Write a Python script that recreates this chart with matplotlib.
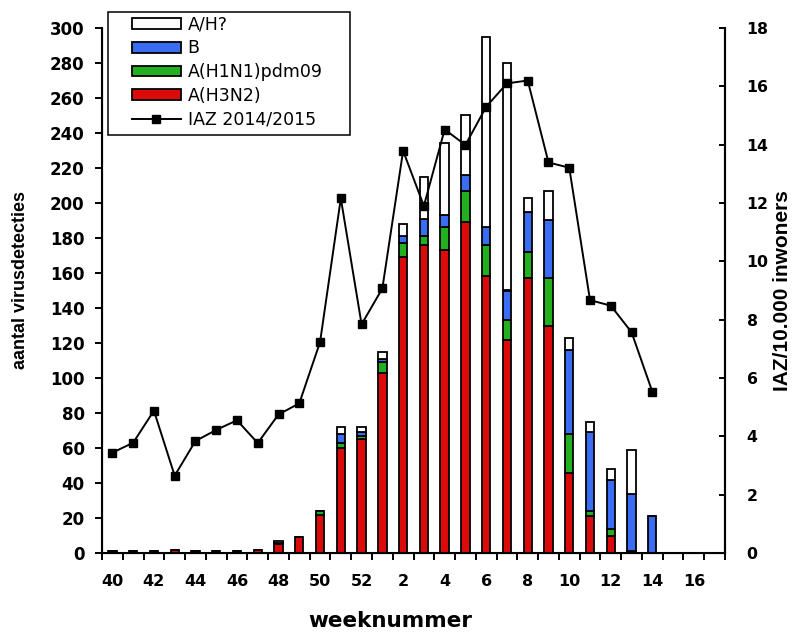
import numpy as np
import matplotlib
matplotlib.use("Agg")
import matplotlib.pyplot as plt
from matplotlib.ticker import FixedLocator
from matplotlib.patches import Rectangle

plt.rcParams['font.family'] = ['DejaVu Sans']

# weeks of season 2014/2015
weeks = list(range(40, 53)) + list(range(1, 18))

h3n2 = [1, 1, 1, 2, 1, 1, 1, 2, 5, 9, 22, 60, 65, 103, 169, 176, 173, 189, 158, 122,
        157, 130, 46, 21, 10, 1, 0, 0, 0, 0]
h1n1 = [0, 0, 0, 0, 0, 0, 0, 0, 1, 0, 2, 3, 2, 6, 8, 5, 13, 18, 18, 11,
        15, 27, 22, 3, 4, 0, 0, 0, 0, 0]
b = [0, 0, 0, 0, 0, 0, 0, 0, 0, 0, 0, 5, 2, 2, 4, 10, 7, 9, 10, 17,
     23, 33, 48, 45, 28, 33, 21, 0, 0, 0]
ah = [0, 0, 0, 0, 0, 0, 0, 0, 1, 0, 0, 4, 3, 4, 7, 24, 41, 34, 109, 130,
      8, 17, 7, 6, 6, 25, 0, 0, 0, 0]
iaz = [3.44, 3.78, 4.88, 2.65, 3.84, 4.22, 4.55, 3.77, 4.75, 5.13, 7.23, 12.16, 7.84, 9.07,
       13.79, 11.9, 14.52, 13.99, 15.3, 16.1, 16.2, 13.39, 13.21, 8.67, 8.48, 7.57, 5.53,
       np.nan, np.nan, np.nan]

x = np.arange(len(weeks))
h3n2 = np.array(h3n2)
h1n1 = np.array(h1n1)
b = np.array(b)
ah = np.array(ah)

W, H = 798, 632
fig = plt.figure(figsize=(W / 100, H / 100), dpi=100)
ax = fig.add_axes([102 / W, 1 - 553 / H, 623 / W, 525 / H])

kw = dict(width=0.4, edgecolor='black', linewidth=1.3)
p1 = ax.bar(x, h3n2, color='#dd0a0a', **kw)
p2 = ax.bar(x, h1n1, bottom=h3n2, color='#22b020', **kw)
p3 = ax.bar(x, b, bottom=h3n2 + h1n1, color='#3a6cf4', **kw)
p4 = ax.bar(x, ah, bottom=h3n2 + h1n1 + b, color='white', **kw)

ax.set_xlim(-0.5, len(weeks) - 0.5)
ax.set_ylim(0, 300)
ax.set_yticks(range(0, 301, 20))
ax.set_xticks(x[::2])
ax.set_xticklabels([str(wk) for wk in weeks[::2]])
ax.xaxis.set_minor_locator(FixedLocator(np.arange(-0.5, len(weeks), 1.0)))
ax.tick_params(axis='x', which='major', length=0, pad=15)
ax.tick_params(axis='x', which='minor', length=5, width=1.4, direction='out')
ax.tick_params(axis='y', length=5, width=1.4, direction='out', pad=7.5)
for lab in ax.get_xticklabels():
    lab.set_fontweight('bold')
    lab.set_fontsize(11.5)
for lab in ax.get_yticklabels():
    lab.set_fontweight('bold')
    lab.set_fontsize(12)
ax.spines['top'].set_visible(False)
for s in ['left', 'bottom', 'right']:
    ax.spines[s].set_linewidth(1.5)
ax.set_ylabel('aantal virusdetecties', fontsize=13, fontweight='bold',
              family=['Liberation Sans', 'DejaVu Sans'])
ax.yaxis.set_label_coords(-0.117, 0.52)
ax.set_xlabel('weeknummer', fontsize=15.5, fontweight='bold')
ax.xaxis.set_label_coords(0.463, -0.111)

ax2 = ax.twinx()
ax2.set_ylim(0, 18)
ax2.set_yticks(range(0, 19, 2))
l1, = ax2.plot(x, iaz, color='black', linewidth=1.4, marker='s', markersize=5.5)
ax2.spines['top'].set_visible(False)
ax2.spines['right'].set_linewidth(1.5)
ax2.tick_params(axis='y', length=4, width=1.4, direction='in', pad=15.5)
for lab in ax2.get_yticklabels():
    lab.set_fontweight('bold')
    lab.set_fontsize(11.3)
ax2.set_ylabel('IAZ/10.000 inwoners', fontsize=15, fontweight='bold',
               family=['Liberation Sans', 'DejaVu Sans'])
ax2.yaxis.set_label_coords(1.077, 0.5)

# legend box
fig.patches.append(Rectangle((108 / W, 1 - 135 / H), 242 / W, 123 / H, transform=fig.transFigure,
                             facecolor='white', edgecolor='black', linewidth=1.1, zorder=5))
leg = fig.legend([p4, p3, p2, p1, l1], ['A/H?', 'B', 'A(H1N1)pdm09', 'A(H3N2)', 'IAZ 2014/2015'],
                 loc='upper left', bbox_to_anchor=(132 / W, 1 - 15.6 / H),
                 frameon=False, borderaxespad=0, borderpad=0,
                 fontsize=12.5, handlelength=2.8, handleheight=0.58, labelspacing=0.33,
                 handletextpad=0.4)
leg.set_zorder(6)

fig.savefig('out.png', dpi=100)
